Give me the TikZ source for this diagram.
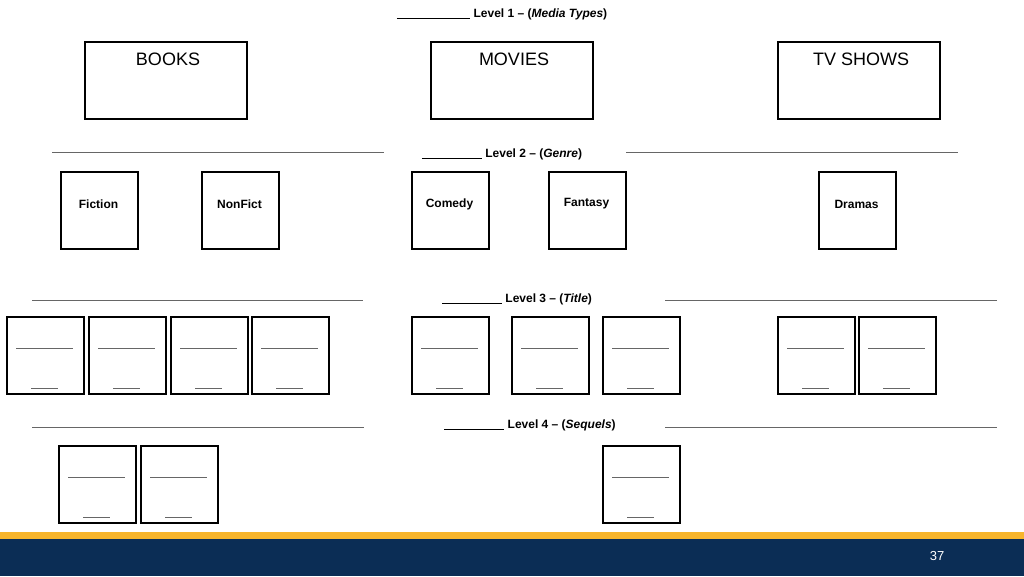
\documentclass[tikz,border=0pt]{standalone}
\usepackage{fontspec}
\setmainfont{Liberation Sans}
\definecolor{navy}{HTML}{0B2D55}
\definecolor{gold}{HTML}{F7B52C}
\begin{document}
\begin{tikzpicture}[x=1pt,y=-1pt,
 bigbox/.style={draw,line width=2pt,minimum width=162pt,minimum height=77pt,anchor=north west,inner sep=0},
 gbox/.style={draw,line width=2pt,minimum width=77pt,minimum height=77pt,anchor=north west,inner sep=0},
 hdr/.style={font=\bfseries\fontsize{12}{14}\selectfont},
 sep/.style={draw=gray!80!black,line width=1pt},
 blank/.style={draw=gray!80!black,line width=0.9pt}]
\useasboundingbox (0,0) rectangle (1024,576);
\node[hdr] (t1) at (502,14) {\underline{\hphantom{\_\_\_\_\_\_\_\_\_\_\_}} Level 1 -- (\textit{Media Types})};
\foreach \n/\x/\t in {b/84/BOOKS,m/430/MOVIES,tv/777/TV SHOWS}{
 \node[bigbox] (\n) at (\x,41) {};
 \node[font=\fontsize{18}{20}\selectfont] (\n t) at (\x+84,59) {\t};
}
\node[hdr] (t2) at (502,154) {\underline{\hphantom{\_\_\_\_\_\_\_\_\_}} Level 2 -- (\textit{Genre})};
\draw[sep] (52,152) -- (384,152); \draw[sep] (626,152) -- (958,152);
\foreach \n/\x/\t in {g1/60/Fiction,g2/201/NonFict,g3/411/Comedy,g4/548/Fantasy,g5/818/Dramas}{
 \node[gbox] (\n) at (\x,171) {};
 \node[hdr] (\n t) at (\x+38.5,204) {\t};
}
\node[hdr] (t3) at (517,299) {\underline{\hphantom{\_\_\_\_\_\_\_\_\_}} Level 3 -- (\textit{Title})};
\draw[sep] (32,300) -- (363,300); \draw[sep] (665,300) -- (997,300);
\foreach \x [count=\i] in {6,88,170,251,411,511,602,777,858}{
 \node[gbox] (c\i) at (\x,316) {};
 \draw[blank] (\x+10,348) -- (\x+67,348);
 \draw[blank] (\x+25,388) -- (\x+52,388);
}
\node[hdr] (t4) at (530,425) {\underline{\hphantom{\_\_\_\_\_\_\_\_\_}} Level 4 -- (\textit{Sequels})};
\draw[sep] (32,427) -- (364,427); \draw[sep] (665,427) -- (997,427);
\foreach \x [count=\i] in {58,140,602}{
 \node[gbox] (d\i) at (\x,445) {};
 \draw[blank] (\x+10,477) -- (\x+67,477);
 \draw[blank] (\x+25,517) -- (\x+52,517);
}
\fill[gold] (0,532) rectangle (1024,539);
\fill[navy] (0,539) rectangle (1024,576);
\node[white,font=\fontsize{13}{15}\selectfont] (pg) at (937,556) {37};
\end{tikzpicture}
\end{document}
